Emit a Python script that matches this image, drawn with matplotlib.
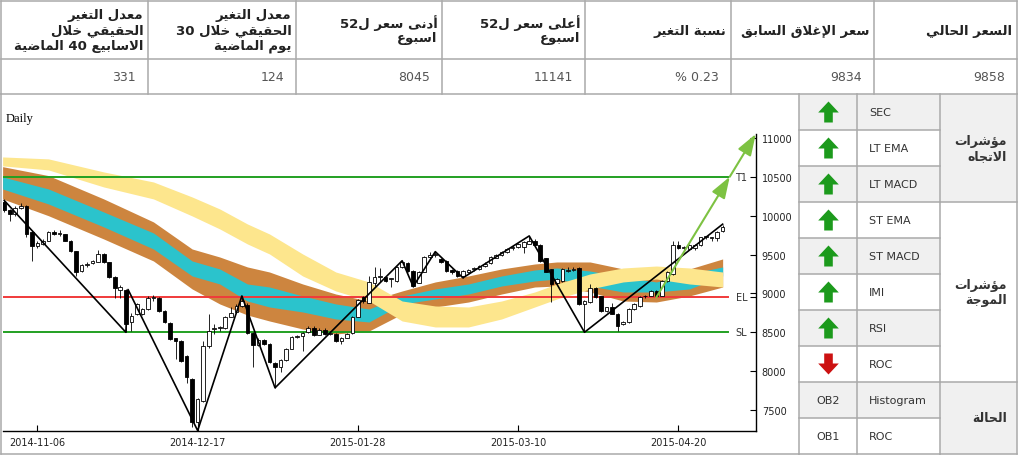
import matplotlib
matplotlib.use("Agg")
import matplotlib.pyplot as plt
from matplotlib.patches import Polygon, Rectangle

# ---------------- data ----------------
# summary table, columns from left to right
summary_headers = [
    ["معدل التغير", "الحقيقي خلال", "الاسابيع 40 الماضية"],
    ["معدل التغير", "الحقيقي خلال 30", "يوم الماضية"],
    ["أدنى سعر ل52", "اسبوع"],
    ["أعلى سعر ل52", "اسبوع"],
    ["نسبة التغير"],
    ["سعر الإغلاق السابق"],
    ["السعر الحالي"],
]
summary_values = ["331", "124", "8045", "11141", "% 0.23", "9834", "9858"]

# indicator panel
indicator_names = ["SEC", "LT EMA", "LT MACD", "ST EMA", "ST MACD", "IMI", "RSI", "ROC"]
indicator_signals = ["up", "up", "up", "up", "up", "up", "up", "down"]
status_codes = ["OB2", "OB1"]
status_names = ["Histogram", "ROC"]
group_titles = [["مؤشرات", "الاتجاه"], ["مؤشرات", "الموجة"], ["الحالة"]]
group_sizes = [3, 5, 2]

# daily candles (trading-day index 0..130)
opens = [10180, 10070, 10020, 10100, 10125, 9790, 9610, 9640, 9680, 9790,
         9770, 9760, 9680, 9545, 9290, 9370, 9390, 9410, 9510, 9400,
         9210, 9040, 9045, 8630, 8740, 8740, 8800, 8940, 8940, 8775,
         8620, 8420, 8390, 8200, 7900, 7350, 7620, 8320, 8540, 8550,
         8550, 8700, 8760, 8840, 8850, 8490, 8340, 8400, 8350, 8110,
         8050, 8140, 8290, 8440, 8450, 8500, 8560, 8470, 8530, 8480,
         8480, 8390, 8430, 8490, 8700, 8950, 8880, 9130, 9210, 9215,
         9180, 9160, 9340, 9390, 9290, 9140, 9280, 9470, 9500, 9440,
         9420, 9300, 9290, 9230, 9270, 9310, 9310, 9350, 9390, 9460,
         9490, 9530, 9590, 9600, 9600, 9640, 9680, 9620, 9450, 9310,
         9130, 9160, 9290, 9300, 9330, 8860, 8890, 9070, 8960, 8770,
         8820, 8740, 8600, 8630, 8800, 8840, 8960, 8970, 9030, 8970,
         9160, 9250, 9620, 9580, 9570, 9580, 9620, 9720, 9710, 9715,
         9800]
highs = [10200, 10090, 10130, 10160, 10140, 9800, 9680, 9700, 9800, 9820,
         9810, 9770, 9690, 9550, 9380, 9400, 9430, 9560, 9520, 9410,
         9220, 9110, 9060, 8750, 8880, 8810, 8960, 8980, 8950, 8780,
         8630, 8430, 8400, 8210, 7910, 7650, 8390, 8740, 8600, 8580,
         8710, 8825, 8860, 8960, 8870, 8500, 8420, 8410, 8360, 8120,
         8150, 8300, 8450, 8470, 8500, 8580, 8580, 8550, 8550, 8510,
         8490, 8440, 8490, 8710, 8930, 8960, 9225, 9340, 9330, 9230,
         9200, 9350, 9420, 9400, 9300, 9290, 9480, 9530, 9537, 9460,
         9430, 9320, 9300, 9300, 9320, 9340, 9360, 9400, 9480, 9510,
         9540, 9580, 9620, 9650, 9670, 9739, 9700, 9630, 9460, 9320,
         9200, 9330, 9340, 9340, 9340, 8910, 9120, 9080, 8970, 8830,
         8880, 8750, 8640, 8810, 8870, 8960, 8980, 9040, 9040, 9170,
         9290, 9675, 9675, 9610, 9630, 9640, 9730, 9740, 9730, 9800,
         9880]
lows = [10050, 9930, 10000, 10080, 9730, 9420, 9590, 9620, 9670, 9750,
        9740, 9670, 9530, 9225, 9280, 9340, 9380, 9400, 9390, 9200,
        8940, 8940, 8500, 8520, 8720, 8720, 8790, 8900, 8760, 8620,
        8400, 8155, 8120, 7850, 7280, 7240, 7600, 8300, 8480, 8520,
        8540, 8690, 8750, 8830, 8480, 8050, 8320, 8340, 8110, 7780,
        7990, 8130, 8280, 8420, 8260, 8490, 8450, 8460, 8470, 8460,
        8380, 8350, 8420, 8480, 8690, 8870, 8870, 9100, 9150, 9150,
        9080, 9150, 9330, 9280, 9085, 9130, 9270, 9440, 9470, 9390,
        9280, 9250, 9215, 9200, 9260, 9290, 9300, 9340, 9380, 9450,
        9480, 9520, 9560, 9590, 9520, 9630, 9610, 9410, 9270, 8890,
        9110, 9150, 9280, 9290, 8850, 8500, 8880, 8940, 8760, 8760,
        8730, 8520, 8590, 8620, 8790, 8830, 8940, 8960, 8960, 8960,
        9150, 9240, 9570, 9560, 9560, 9560, 9610, 9700, 9680, 9680,
        9790]
closes = [10070, 10020, 10100, 10130, 9765, 9610, 9650, 9680, 9790, 9765,
          9780, 9680, 9545, 9275, 9370, 9375, 9420, 9510, 9400, 9210,
          9070, 9080, 8610, 8710, 8860, 8800, 8940, 8945, 8775, 8630,
          8415, 8390, 8130, 7920, 7350, 7640, 8320, 8520, 8560, 8560,
          8700, 8750, 8840, 8900, 8490, 8340, 8400, 8350, 8120, 8050,
          8140, 8290, 8440, 8450, 8490, 8560, 8460, 8530, 8480, 8490,
          8390, 8430, 8480, 8700, 8920, 8900, 9150, 9215, 9220, 9160,
          9190, 9340, 9400, 9290, 9100, 9280, 9470, 9500, 9505, 9400,
          9290, 9270, 9225, 9290, 9300, 9320, 9350, 9380, 9470, 9500,
          9530, 9570, 9600, 9630, 9660, 9680, 9620, 9420, 9280, 9120,
          9190, 9320, 9300, 9310, 8860, 8900, 9070, 8950, 8770, 8820,
          8740, 8585, 8630, 8800, 8860, 8950, 8970, 9030, 8970, 9160,
          9280, 9620, 9580, 9590, 9620, 9620, 9720, 9730, 9720, 9790,
          9860]

tick_idx = [6, 35, 64, 93, 122]
tick_dates = ["2014-11-06", "2014-12-17", "2015-01-28", "2015-03-10", "2015-04-20"]
price_ticks = [7500, 8000, 8500, 9000, 9500, 10000, 10500, 11000]

# moving-average ribbons, sampled along the index
band_idx = [-0.3, 8, 18, 27, 34, 39, 44, 48, 54, 60, 66, 72, 78, 84, 90, 96,
            100, 106, 112, 118, 124, 130]
slow_top = [10755, 10730, 10562, 10433, 10240, 10086, 9893, 9764, 9507, 9275, 9147,
            8902, 8838, 8825, 8902, 9018, 9121, 9250, 9327, 9352, 9327, 9275]
slow_bot = [10640, 10588, 10369, 10215, 9996, 9829, 9636, 9507, 9224, 9031, 8902,
            8645, 8568, 8568, 8671, 8825, 8928, 9057, 9147, 9185, 9121, 9082]
outer_top = [10630, 10515, 10215, 9919, 9571, 9468, 9340, 9275, 9121, 8992, 8902,
             9031, 9147, 9224, 9314, 9378, 9404, 9404, 9314, 9250, 9314, 9443]
inner_top = [10498, 10343, 10047, 9777, 9417, 9314, 9121, 9082, 8967, 8864, 8799,
             8967, 9057, 9121, 9224, 9301, 9327, 9288, 9211, 9147, 9250, 9340]
inner_bot = [10343, 10150, 9855, 9571, 9224, 9121, 8902, 8825, 8761, 8671, 8632,
             8864, 8928, 8992, 9095, 9160, 9185, 9095, 9018, 9018, 9057, 9224]
outer_bot = [10215, 9999, 9700, 9417, 9057, 8864, 8722, 8645, 8542, 8478, 8516,
             8735, 8825, 8889, 8992, 9082, 9095, 9018, 8902, 8889, 8967, 9082]

# wave (zigzag) pivots
zz_idx = [0, 22, 22.4, 35, 43, 49, 72, 74, 78, 83, 95, 105, 130]
zz_price = [10195, 8500, 9050, 7235, 8967, 7785, 9420, 9087, 9537, 9200, 9739, 8500, 9890]

level_names = ["T1", "EL", "SL"]
level_values = [10500, 8950, 8500]
level_colors = ["#22a022", "#f03a3a", "#22a022"]
level_end = 131

target_start = (118, 8950)
target_end = (136, 11050)

# ---------------- arabic helper (contextual shaping + simple bidi) ----------------
_forms = {
    "آ": (0xFE81, 0xFE82, None, None), "أ": (0xFE83, 0xFE84, None, None),
    "ؤ": (0xFE85, 0xFE86, None, None), "إ": (0xFE87, 0xFE88, None, None),
    "ا": (0xFE8D, 0xFE8E, None, None), "ب": (0xFE8F, 0xFE90, 0xFE91, 0xFE92),
    "ة": (0xFE93, 0xFE94, None, None), "ت": (0xFE95, 0xFE96, 0xFE97, 0xFE98),
    "ج": (0xFE9D, 0xFE9E, 0xFE9F, 0xFEA0), "ح": (0xFEA1, 0xFEA2, 0xFEA3, 0xFEA4),
    "خ": (0xFEA5, 0xFEA6, 0xFEA7, 0xFEA8), "د": (0xFEA9, 0xFEAA, None, None),
    "ر": (0xFEAD, 0xFEAE, None, None), "س": (0xFEB1, 0xFEB2, 0xFEB3, 0xFEB4),
    "ش": (0xFEB5, 0xFEB6, 0xFEB7, 0xFEB8), "ض": (0xFEBD, 0xFEBE, 0xFEBF, 0xFEC0),
    "ع": (0xFEC9, 0xFECA, 0xFECB, 0xFECC), "غ": (0xFECD, 0xFECE, 0xFECF, 0xFED0),
    "ق": (0xFED5, 0xFED6, 0xFED7, 0xFED8), "ل": (0xFEDD, 0xFEDE, 0xFEDF, 0xFEE0),
    "م": (0xFEE1, 0xFEE2, 0xFEE3, 0xFEE4), "ن": (0xFEE5, 0xFEE6, 0xFEE7, 0xFEE8),
    "ه": (0xFEE9, 0xFEEA, 0xFEEB, 0xFEEC), "و": (0xFEED, 0xFEEE, None, None),
    "ى": (0xFEEF, 0xFEF0, None, None), "ي": (0xFEF1, 0xFEF2, 0xFEF3, 0xFEF4),
}
_lam_alef = {"آ": (0xFEF5, 0xFEF6), "أ": (0xFEF7, 0xFEF8),
             "إ": (0xFEF9, 0xFEFA), "ا": (0xFEFB, 0xFEFC)}


def _links(c):
    return c in _forms and _forms[c][2] is not None


def _is_ar(g):
    return 0xFE70 <= ord(g) <= 0xFEFF


def shape_word(word):
    out, prev, i = [], False, 0
    while i < len(word):
        c = word[i]
        if c not in _forms:
            out.append(c)
            prev = False
            i += 1
            continue
        if c == "ل" and i + 1 < len(word) and word[i + 1] in _lam_alef:
            iso, fin = _lam_alef[word[i + 1]]
            out.append(chr(fin if prev else iso))
            prev = False
            i += 2
            continue
        nxt = word[i + 1] if i + 1 < len(word) else ""
        link = _links(c) and nxt in _forms
        iso, fin, ini, med = _forms[c]
        g = med if (prev and link) else fin if prev else ini if link else iso
        out.append(chr(g))
        prev = _links(c)
        i += 1
    # split into runs, lay runs right-to-left, arabic glyphs reversed, digits kept
    runs = []
    for g in out:
        if runs and _is_ar(runs[-1][0]) == _is_ar(g):
            runs[-1].append(g)
        else:
            runs.append([g])
    vis = []
    for run in reversed(runs):
        vis.extend(reversed(run) if _is_ar(run[0]) else run)
    return "".join(vis)


def ar(line):
    return " ".join(shape_word(w) for w in reversed(line.split(" ")))


# ---------------- figure ----------------
W, H = 1018, 456
fig = plt.figure(figsize=(W / 100, H / 100), dpi=100)
fig.patch.set_facecolor("white")

# page layer in pixel units for the tables and frames
pg = fig.add_axes([0, 0, 1, 1], zorder=0)
pg.set_xlim(0, W)
pg.set_ylim(H, 0)
pg.axis("off")

grid_c = "#aaaaaa"
txt_c = "#222222"

# summary table
col_x = [1, 148, 296, 442, 585, 731, 874, 1017]
row_y = [1.5, 60, 95]
for y in row_y:
    pg.plot([col_x[0], col_x[-1]], [y, y], color=grid_c, lw=1.1)
for x in col_x:
    pg.plot([x, x], [row_y[0], row_y[-1]], color=grid_c, lw=1.1)
for k, (lines, val) in enumerate(zip(summary_headers, summary_values)):
    right = col_x[k + 1]
    n = len(lines)
    for j, line in enumerate(lines):
        yy = 31 + (j - (n - 1) / 2) * 15.5
        pg.text(right - 4.5, yy, ar(line), ha="right", va="center",
                fontsize=9.5, fontweight="bold", color=txt_c, family="DejaVu Sans")
    pg.text(right - 12, 77.5, val, ha="right", va="center", fontsize=9,
            color="#555555", family="DejaVu Sans")

# chart panel frame
pg.plot([1, 1], [95, 455], color=grid_c, lw=1.1)
pg.plot([1, 799], [455, 455], color=grid_c, lw=1.1)
pg.text(6, 122, "Daily", fontsize=9, family="Liberation Serif", color="black",
        va="baseline", ha="left")

# indicator panel
tx = [799, 857, 940, 1017]
row_h = 36.0
top = 95
n_rows = len(indicator_names) + len(status_names)
names = indicator_names + status_names
for r in range(n_rows):
    y0 = top + r * row_h
    shade = "#f0f0f0" if r % 2 == 0 else "white"
    pg.add_patch(Rectangle((tx[0], y0), tx[2] - tx[0], row_h, facecolor=shade,
                           edgecolor="none", zorder=0))
    pg.plot([tx[0], tx[2]], [y0 + row_h, y0 + row_h], color=grid_c, lw=1.1)
    cy = y0 + row_h / 2
    pg.text(tx[1] + 12, cy, names[r], ha="left", va="center", fontsize=8,
            color="#333333", family="DejaVu Sans")
    if r < len(indicator_signals):
        s = 1 if indicator_signals[r] == "up" else -1
        cx = (tx[0] + tx[1]) / 2 + 0.5
        pts = [(0, -10.5), (10.3, 0.5), (4.3, 0.5), (4.3, 10.5),
               (-4.3, 10.5), (-4.3, 0.5), (-10.3, 0.5)]
        col = "#1c9a1c" if s == 1 else "#cc1111"
        pg.add_patch(Polygon([(cx + px, cy + s * py) for px, py in pts],
                             closed=True, facecolor=col, edgecolor="none", zorder=2))
    else:
        pg.text((tx[0] + tx[1]) / 2, cy, status_codes[r - len(indicator_signals)],
                ha="center", va="center", fontsize=8, color="#333333",
                family="DejaVu Sans")

start = 0
for g, (title, size) in enumerate(zip(group_titles, group_sizes)):
    y0 = top + start * row_h
    y1 = y0 + size * row_h
    pg.add_patch(Rectangle((tx[2], y0), tx[3] - tx[2], y1 - y0,
                           facecolor="#f0f0f0" if g % 2 == 0 else "white",
                           edgecolor="none", zorder=0))
    pg.plot([tx[2], tx[3]], [y1, y1], color=grid_c, lw=1.1)
    n = len(title)
    for j, line in enumerate(title):
        yy = (y0 + y1) / 2 + (j - (n - 1) / 2) * 14.5
        pg.text(1007, yy, ar(line), ha="right", va="center", fontsize=9,
                fontweight="bold", color="#333333", family="DejaVu Sans")
    start += size
for x in tx:
    pg.plot([x, x], [top, top + n_rows * row_h], color=grid_c, lw=1.1)

# ---------------- price chart ----------------
x_left, x_right = 2.6, 755.8
y_top, y_bot = 135, 432
ax = fig.add_axes([x_left / W, (H - y_bot) / H, (x_right - x_left) / W,
                   (y_bot - y_top) / H], zorder=2)
ax.set_facecolor("white")
ax.set_xlim(-0.3, 136)
ax.set_ylim(7230, 11050)

brown, cyan, yellow = "#cd853f", "#2bc3cc", "#fde68d"
ax.fill_between(band_idx, outer_bot, outer_top, color=brown, lw=0, zorder=1)
ax.fill_between(band_idx, inner_bot, inner_top, color=cyan, lw=0, zorder=1.1)
ax.fill_between(band_idx, slow_bot, slow_top, color=yellow, lw=0, zorder=1.2)

for name, val, col in zip(level_names, level_values, level_colors):
    ax.plot([-0.3, level_end], [val, val], color=col, lw=1.4, zorder=2)
    ax.text(0.9885, val, name, transform=ax.get_yaxis_transform(), ha="right",
            va="center", fontsize=7, color="#333333")

idx = list(range(len(opens)))
ax.vlines(idx, lows, highs, color="black", lw=0.6, zorder=3)
body_lo = [min(o, c) for o, c in zip(opens, closes)]
body_h = [max(abs(c - o), 12) for o, c in zip(opens, closes)]
body_col = ["white" if c >= o else "black" for o, c in zip(opens, closes)]
ax.bar(idx, body_h, bottom=body_lo, width=0.66, color=body_col,
       edgecolor="black", linewidth=0.6, zorder=3.5)

ax.plot(zz_idx, zz_price, color="black", lw=1.2, zorder=4)

# target arrow with a head at T1 and at the end
frac = (level_values[0] - target_start[1]) / (target_end[1] - target_start[1])
mid = (target_start[0] + frac * (target_end[0] - target_start[0]), level_values[0])
for a, b in [(target_start, mid), (mid, target_end)]:
    ax.annotate("", xy=b, xytext=a, annotation_clip=False, zorder=5,
                arrowprops=dict(arrowstyle="-|>,head_length=1.3,head_width=0.45",
                                color="#7dc242", lw=1.5, shrinkA=0, shrinkB=0))

for s in ["top", "left"]:
    ax.spines[s].set_visible(False)
for s in ["bottom", "right"]:
    ax.spines[s].set_linewidth(1.0)

ax.yaxis.tick_right()
ax.set_yticks(price_ticks)
ax.set_yticklabels([str(v) for v in price_ticks])
ax.set_yticks([level_values[1]], minor=True)
ax.tick_params(axis="y", which="both", direction="in", length=4, width=0.8,
               pad=4.3, labelsize=7, labelcolor=txt_c)
ax.set_xticks(tick_idx)
ax.set_xticklabels(tick_dates)
ax.tick_params(axis="x", direction="in", length=4, width=0.8, pad=4.5,
               labelsize=7, labelcolor=txt_c)

fig.savefig("out.png", dpi=100)
